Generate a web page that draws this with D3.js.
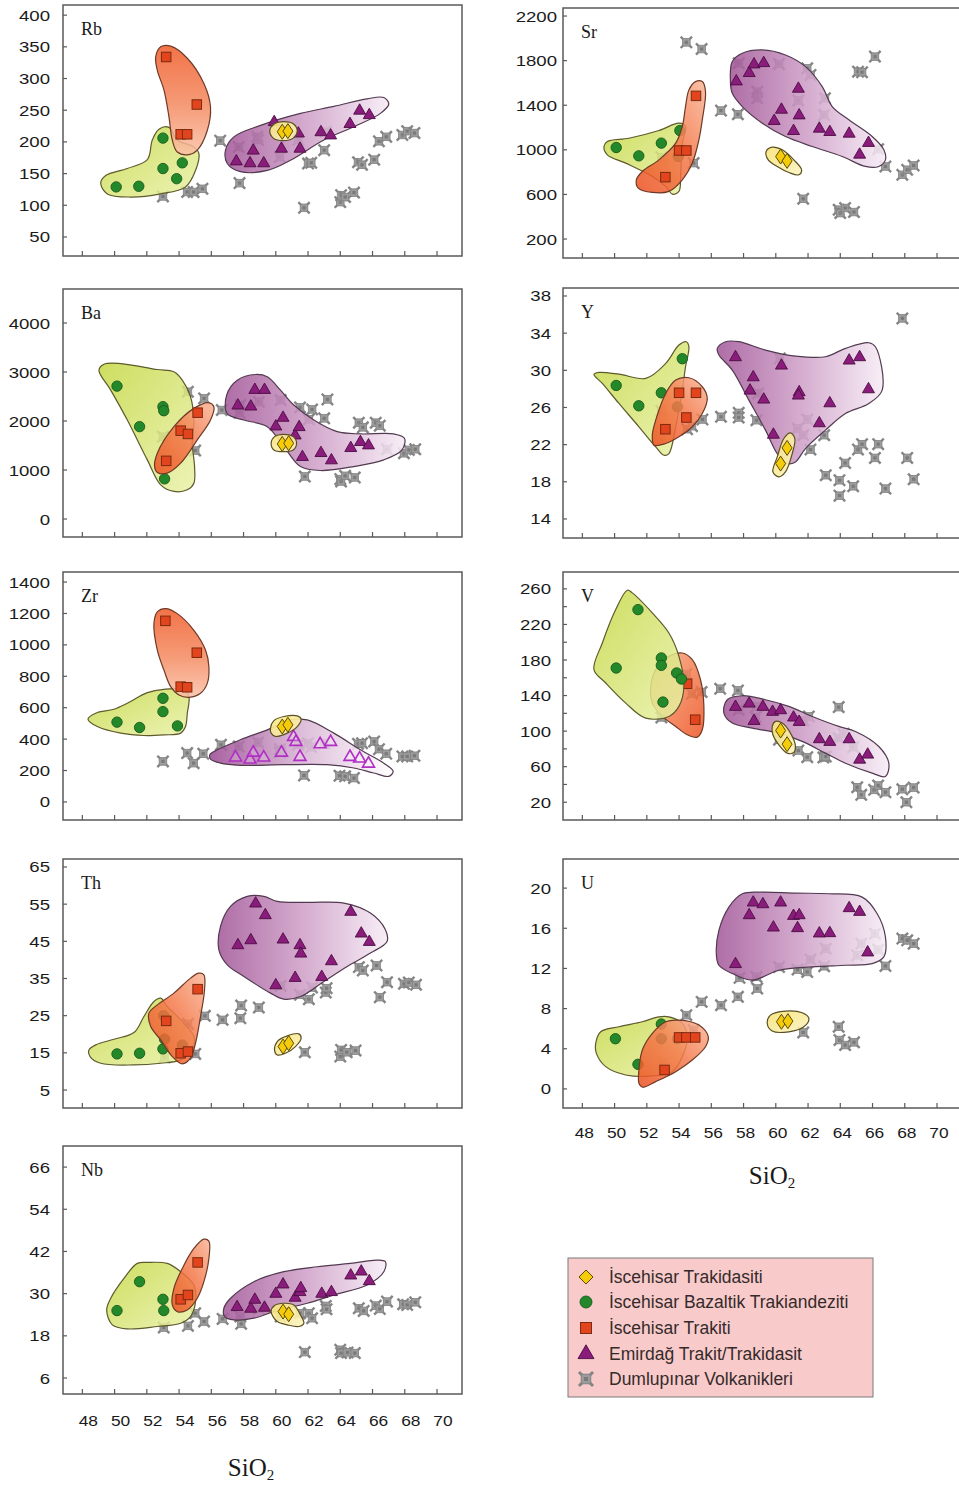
<!DOCTYPE html>
<html><head><meta charset="utf-8">
<script src="https://cdnjs.cloudflare.com/ajax/libs/d3/7.8.5/d3.min.js"></script>
<style>body{margin:0;background:#fff}svg{display:block}</style>
</head><body>
<svg id="c" width="959" height="1486"></svg>
<script>
// ---------------- DATA ----------------
const sio2Ticks = [48,50,52,54,56,58,60,62,64,66,68,70];
const legendLabels = ["İscehisar Trakidasiti","İscehisar Bazaltik Trakiandeziti","İscehisar Trakiti","Emirdağ Trakit/Trakidasit","Dumlupınar Volkanikleri"];

// Rb
const rbTicks = [50,100,150,200,250,300,350,400];
const rbTrakidasit = [[60.4,216],[60.75,217]];
const rbBazaltik = [[50.1,129],[51.5,130],[53.0,206],[53.0,158],[54.2,167],[53.85,142]];
const rbTrakit = [[53.2,334],[55.1,259],[54.1,212],[54.5,212]];
const rbEmirdag = [[59.9,232],[57.55,170],[58.4,167],[59.25,167],[58.6,187],[60.35,190],[61.4,214],[61.5,190],[62.8,216],[63.4,211],[64.6,229],[65.2,250],[65.8,243]];
const rbDumlupinar = [[53.0,114],[54.5,121],[54.9,121],[55.45,126],[56.55,202],[57.7,192],[57.75,135],[58.85,208],[58.9,203],[60.25,176],[61.4,203],[61.75,96],[62.0,166],[62.2,167],[63.0,187],[63.1,216],[64.0,105],[64.05,116],[64.3,113],[64.85,120],[65.1,168],[65.35,164],[66.1,172],[66.4,201],[66.85,208],[67.85,211],[68.15,217],[68.6,214]];
const rbEnvGreen = [[49.14,135],[49.45,147],[50.79,158],[52.03,172],[52.34,203],[52.75,220],[53.37,223],[53.89,203],[54.92,192],[55.23,182],[55.02,155],[54.4,129],[52.85,118],[50.99,113],[49.55,118]];
const rbEnvOrange = [[52.55,334],[52.86,350],[53.48,351],[54.51,332],[55.54,292],[55.95,255],[55.75,218],[55.13,187],[54.61,180],[53.89,184],[53.58,203],[53.37,240],[53.06,282],[52.65,313]];
const rbEnvPurple = [[56.88,187],[57.4,208],[59.05,226],[61.53,245],[63.6,256],[65.67,268],[66.7,270],[67.01,260],[66.49,245],[64.84,224],[62.98,203],[60.91,171],[59.47,155],[57.81,153],[56.99,166]];
const rbEnvYellow = [[59.63,218],[59.88,228],[60.5,232],[61.12,228],[61.33,217],[61.08,206],[60.46,202],[59.84,206]];

// Sr
const srTicks = [200,600,1000,1400,1800,2200];
const srTrakidasit = [[60.3,940],[60.7,901]];
const srBazaltik = [[50.1,1021],[51.5,946],[52.9,1060],[54.05,1173],[53.95,940]];
const srTrakit = [[55.05,1484],[54.0,994],[54.45,994],[53.15,755]];
const srEmirdag = [[57.55,1618],[58.35,1693],[58.65,1770],[59.25,1782],[61.4,1552],[60.35,1364],[59.9,1263],[61.45,1313],[61.1,1173],[62.7,1194],[63.35,1164],[64.55,1149],[65.75,1066],[65.2,961]];
const srDumlupinar = [[54.45,1964],[55.4,1904],[56.6,1352],[57.65,1319],[57.7,1776],[58.85,1522],[58.85,1463],[60.2,1770],[61.4,1442],[61.95,1731],[62.15,1672],[63.05,1463],[63.0,1313],[65.1,1701],[65.35,1696],[66.15,1836],[66.35,1006],[66.8,851],[67.85,776],[68.15,821],[68.55,860],[61.7,561],[63.9,463],[64.0,433],[64.3,478],[64.85,442],[52.9,934],[54.9,881]];
const srEnvGreen = [[49.34,1030],[49.55,1075],[50.89,1104],[52.75,1173],[53.99,1239],[54.4,1209],[54.2,1060],[54.1,791],[53.99,627],[53.58,603],[53.17,672],[52.34,761],[50.69,881],[49.55,955]];
const srEnvOrange = [[55.02,1612],[55.44,1612],[55.64,1522],[55.44,1269],[55.23,1090],[54.82,881],[54.2,731],[53.37,627],[52.34,618],[51.47,657],[51.35,731],[51.72,806],[52.75,910],[53.79,1060],[54.2,1209],[54.4,1388],[54.61,1537]];
const srEnvPurple = [[57.19,1597],[57.3,1791],[57.92,1866],[59.16,1896],[60.6,1851],[61.84,1746],[62.88,1567],[63.5,1388],[64.53,1269],[65.98,1119],[66.7,1000],[66.8,910],[66.39,851],[65.56,851],[64.12,940],[62.26,1030],[60.6,1119],[59.16,1239],[57.92,1388],[57.3,1507]];
const srEnvYellow = [[59.4,985],[59.77,1024],[60.4,1000],[61.12,910],[61.6,821],[61.43,776],[60.81,797],[60.09,851],[59.53,910]];

// Ba
const baTicks = [0,1000,2000,3000,4000];
const baTrakidasit = [[60.4,1532],[60.8,1546]];
const baBazaltik = [[50.15,2712],[51.55,1885],[53.0,2292],[53.05,2210],[53.1,820]];
const baTrakit = [[55.15,2170],[54.1,1803],[54.55,1736],[53.2,1187]];
const baEmirdag = [[57.65,2326],[58.45,2305],[58.7,2644],[59.3,2644],[60.0,1898],[60.45,2075],[61.2,1715],[61.45,1885],[61.65,1275],[62.8,1356],[63.45,1207],[64.65,1458],[65.25,1580],[65.75,1512]];
const baDumlupinar = [[54.55,2597],[55.55,2461],[53.0,1681],[55.0,1397],[56.65,2224],[57.8,2326],[57.75,2170],[58.95,2393],[60.3,2427],[61.5,2278],[62.25,2237],[62.05,2034],[63.2,2441],[63.0,2054],[61.8,868],[64.0,814],[64.05,766],[64.3,881],[64.9,848],[65.15,1966],[65.4,1871],[66.2,1966],[66.45,1905],[66.9,1424],[67.95,1342],[68.25,1410],[68.65,1424]];
const baEnvGreen = [[49.03,3037],[49.34,3159],[50.38,3173],[52.65,3051],[53.68,3004],[54.2,2834],[54.71,2495],[54.92,2020],[54.82,1546],[54.96,1071],[54.92,732],[54.51,597],[53.68,563],[52.86,698],[52.03,1207],[50.79,2020],[49.76,2631]];
const baEnvOrange = [[52.48,1071],[52.65,1342],[53.68,1885],[54.92,2258],[55.85,2373],[56.16,2292],[55.95,2020],[55.13,1614],[54.1,1139],[53.27,936],[52.65,949]];
const baEnvPurple = [[56.99,2149],[56.95,2529],[57.61,2834],[58.74,2949],[59.47,2902],[60.29,2631],[61.12,2326],[62.36,2020],[63.81,1783],[65.25,1736],[67.32,1736],[67.98,1648],[67.83,1410],[66.7,1207],[64.84,1071],[62.77,990],[61.53,1071],[60.5,1478],[59.47,1885],[58.02,2020]];
const baEnvYellow = [[59.71,1546],[59.92,1681],[60.46,1729],[61.08,1681],[61.29,1546],[61.08,1410],[60.46,1376],[59.88,1410]];

// Y
const yTicks = [14,18,22,26,30,34,38];
const yTrakidasit = [[60.3,19.96],[60.7,21.65]];
const yBazaltik = [[50.1,28.37],[51.5,26.18],[52.9,27.58],[54.2,31.25],[53.9,26.07]];
const yTrakit = [[54.0,27.58],[55.05,27.58],[54.45,24.92],[53.15,23.66]];
const yEmirdag = [[57.5,31.46],[58.6,29.3],[58.4,27.87],[59.25,26.9],[60.35,30.56],[61.45,27.69],[61.4,27.33],[59.85,23.12],[62.7,24.35],[63.35,26.5],[64.55,31.1],[65.2,31.46],[65.75,28.01]];
const yDumlupinar = [[52.9,25.64],[54.5,23.66],[54.8,23.99],[55.45,24.71],[56.6,25.0],[57.7,25.42],[57.7,24.92],[58.8,24.63],[58.9,27.51],[60.25,31.28],[61.35,23.74],[61.7,23.02],[61.95,24.71],[62.15,21.47],[63.0,23.02],[63.1,18.71],[63.95,18.17],[64.3,20.03],[63.95,16.51],[64.8,17.52],[65.1,21.47],[65.35,22.05],[66.15,20.57],[66.35,22.05],[66.8,17.27],[67.85,35.59],[68.15,20.57],[68.55,18.28]];
const yEnvGreen = [[48.72,29.56],[49.03,29.77],[50.27,29.59],[51.93,29.13],[53.17,30.74],[53.99,32.72],[54.45,33.08],[54.61,32.54],[54.4,30.38],[54.2,27.87],[53.79,23.92],[53.37,21.04],[53.06,20.86],[52.55,21.76],[51.51,23.92],[50.27,26.43],[49.24,28.59]];
const yEnvOrange = [[52.34,23.02],[52.55,24.63],[53.17,27.51],[53.79,28.95],[54.61,29.2],[55.44,28.23],[55.75,26.97],[55.44,25.35],[54.82,23.92],[53.99,22.84],[53.17,22.12],[52.44,21.94]];
const yEnvPurple = [[56.37,32.36],[56.88,33.08],[57.71,33.08],[59.36,32.18],[61.22,31.53],[63.08,31.46],[64.32,32.36],[65.77,32.97],[66.18,32.54],[66.6,27.87],[65.77,26.43],[64.32,25.35],[63.08,23.56],[61.84,21.58],[61.22,20.14],[60.71,19.96],[60.09,21.04],[59.36,23.56],[58.33,26.79],[57.3,30.02],[56.47,31.64]];
const yEnvYellow = [[60.09,20.68],[60.5,22.66],[60.91,23.27],[61.18,22.66],[61.02,21.04],[60.6,19.06],[60.19,18.53],[59.82,19.06]];

// Zr
const zrTicks = [0,200,400,600,800,1000,1200,1400];
const zrTrakidasit = [[60.4,480],[60.75,491]];
const zrBazaltik = [[50.15,508],[51.55,474],[53.0,660],[53.0,575],[53.9,484]];
const zrTrakit = [[53.15,1153],[55.1,950],[54.1,734],[54.5,730]];
const zrEmirdag = [[57.5,286],[58.4,273],[58.6,317],[59.25,286],[60.35,317],[61.1,417],[61.5,290],[62.75,370],[63.4,385],[64.6,290],[65.2,279],[65.75,247],[61.25,385]];
const zrDumlupinar = [[53.0,258],[54.5,311],[54.9,247],[55.5,307],[56.6,364],[57.7,353],[58.9,379],[60.25,336],[60.25,315],[61.4,364],[61.75,169],[62.0,374],[62.2,349],[63.0,374],[63.95,167],[64.3,163],[64.85,152],[65.1,370],[65.35,374],[66.1,385],[66.4,336],[66.85,307],[67.85,290],[68.15,290],[68.6,294]];
const zrEnvGreen = [[48.35,527],[48.83,565],[49.96,590],[50.79,628],[52.03,696],[53.06,717],[54.3,713],[54.61,670],[54.51,565],[54.4,480],[54.1,438],[53.06,427],[51.82,423],[50.38,438],[48.93,480]];
const zrEnvOrange = [[52.44,1136],[52.65,1210],[53.17,1231],[53.89,1199],[54.92,1093],[55.64,967],[55.85,861],[55.75,755],[55.33,692],[54.61,666],[53.99,681],[53.48,734],[53.06,840],[52.65,967]];
const zrEnvPurple = [[55.91,300],[56.37,332],[57.81,396],[59.47,459],[60.91,522],[61.95,522],[63.6,438],[65.25,332],[66.7,247],[67.28,195],[67.01,163],[66.08,184],[64.84,216],[63.19,237],[60.5,237],[57.81,233],[56.57,247],[55.95,273]];
const zrEnvYellow = [[59.67,470],[59.88,518],[60.5,544],[61.33,548],[61.57,527],[61.33,480],[60.71,438],[59.98,417],[59.71,438]];

// V
const vTicks = [20,60,100,140,180,220,260];
const vMinorTicks = [40,80,120,160,200,240];
const vTrakidasit = [[60.3,100.7],[60.7,85.3]];
const vBazaltik = [[51.45,236.7],[50.1,171.0],[52.9,182.3],[52.9,174.0],[53.85,165.4],[54.15,158.6],[53.0,132.7]];
const vTrakit = [[54.5,153.3],[55.0,112.8]];
const vEmirdag = [[57.5,127.8],[58.35,131.5],[58.65,112.0],[59.2,127.8],[59.8,122.2],[60.3,124.0],[61.1,115.8],[61.45,110.9],[62.7,91.4],[63.35,88.4],[64.55,91.4],[65.2,68.4],[65.7,74.1]];
const vDumlupinar = [[52.9,115.4],[54.45,164.2],[54.8,142.1],[55.4,144.0],[56.55,147.7],[57.65,145.8],[57.7,124.0],[58.8,127.8],[58.75,115.8],[60.2,90.2],[61.4,78.2],[61.7,112.0],[62.05,116.5],[61.95,70.7],[62.95,70.3],[63.1,71.4],[63.9,127.0],[63.9,92.1],[64.2,97.0],[64.8,82.0],[65.05,36.9],[65.3,28.3],[66.1,33.9],[66.35,38.8],[66.8,31.3],[67.85,34.6],[68.1,20.0],[68.55,36.5]];
const vEnvGreen = [[48.72,169.1],[49.24,199.2],[50.07,236.7],[50.79,258.5],[51.1,255.5],[52.34,233.0],[53.37,210.4],[53.99,184.1],[54.3,150.3],[53.99,127.8],[53.37,116.5],[51.93,114.6],[50.69,131.5],[49.45,154.1]];
const vEnvOrange = [[52.24,150.3],[52.55,169.1],[53.37,184.1],[54.2,187.9],[54.82,180.4],[55.33,157.8],[55.54,127.8],[55.44,101.5],[55.13,93.2],[54.51,95.9],[53.79,105.3],[52.96,116.5],[52.34,131.5]];
const vEnvPurple = [[56.78,120.3],[56.99,135.3],[57.92,139.8],[59.36,135.3],[60.81,127.8],[62.26,116.5],[63.91,105.3],[64.94,99.6],[66.39,82.7],[67.01,63.9],[66.8,48.9],[65.98,52.7],[64.32,63.9],[63.08,75.2],[61.64,88.4],[60.19,97.7],[58.54,103.4],[57.3,109.0]];
const vEnvYellow = [[59.78,105.3],[59.98,110.9],[60.4,109.0],[60.91,97.7],[61.22,82.7],[61.12,76.0],[60.71,75.2],[60.19,84.6],[59.82,95.9]];

// Th
const thTicks = [5,15,25,35,45,55,65];
const thTrakidasit = [[60.45,16.69],[60.8,17.59]];
const thBazaltik = [[50.15,14.71],[51.55,14.89],[53.0,16.06],[53.1,18.7],[54.2,17.1],[53.05,25.0]];
const thTrakit = [[55.15,32.13],[53.2,23.6],[54.1,14.89],[54.55,15.34]];
const thEmirdag = [[58.75,55.3],[59.35,52.16],[57.65,44.08],[58.45,45.42],[60.45,45.6],[61.5,44.08],[61.55,41.83],[63.45,39.77],[61.2,35.28],[62.85,35.55],[60.0,33.3],[64.65,53.06],[65.3,47.22],[65.8,44.97]];
const thDumlupinar = [[53.1,13.8],[54.55,22.79],[55.0,14.71],[55.6,24.95],[56.7,23.87],[57.8,24.32],[57.85,27.73],[58.95,27.19],[60.3,33.03],[61.5,30.61],[61.8,15.16],[62.05,29.44],[62.25,32.58],[63.1,31.24],[63.15,32.4],[64.0,14.0],[64.05,15.79],[64.4,15.16],[64.95,15.61],[65.15,38.06],[65.4,37.16],[66.25,38.51],[66.45,29.98],[66.9,34.02],[67.95,33.57],[68.25,33.93],[68.7,33.3]];
const thEnvGreen = [[48.41,15.79],[48.83,17.14],[49.96,18.66],[51.2,20.46],[51.82,24.77],[52.44,28.81],[52.86,29.71],[53.27,27.46],[54.1,23.87],[54.92,19.38],[54.82,15.79],[54.1,13.1],[52.86,12.2],[51.2,11.75],[49.14,12.2],[48.48,14.0]];
const thEnvOrange = [[52.13,25.67],[52.65,27.91],[53.68,31.06],[54.71,35.1],[55.23,36.44],[55.54,36.0],[55.58,31.95],[55.33,24.77],[55.02,17.59],[54.71,13.55],[54.2,12.02],[53.58,14.0],[52.86,18.48],[52.24,22.08]];
const thEnvPurple = [[56.47,42.73],[56.57,49.02],[57.19,54.4],[58.23,57.1],[59.26,57.1],[60.09,55.75],[61.95,55.48],[64.22,55.3],[65.87,52.61],[66.8,48.12],[66.9,44.97],[65.87,41.83],[64.43,38.24],[62.98,34.2],[61.53,30.16],[60.5,29.44],[59.67,31.06],[58.02,35.55],[56.99,38.69]];
const thEnvYellow = [[59.92,15.79],[60.09,18.03],[60.71,19.56],[61.43,20.1],[61.57,18.93],[61.22,16.69],[60.6,14.89],[60.09,14.44]];

// U
const uTicks = [0,4,8,12,16,20];
const uTrakidasit = [[60.35,6.69],[60.75,6.75]];
const uBazaltik = [[50.05,5.0],[51.45,2.45],[52.9,6.46],[52.9,5.0],[53.9,5.0]];
const uTrakit = [[54.0,5.13],[54.45,5.13],[55.0,5.13],[53.1,1.89]];
const uEmirdag = [[58.6,18.61],[59.2,18.44],[60.3,18.61],[58.35,17.35],[61.1,17.28],[61.45,17.35],[61.35,16.06],[59.85,16.12],[62.7,15.53],[63.35,15.56],[64.55,18.05],[65.2,17.68],[65.7,13.64],[57.5,12.48]];
const uDumlupinar = [[53.0,2.55],[54.45,7.35],[54.9,5.86],[55.4,8.67],[56.6,8.34],[57.65,9.17],[57.75,11.06],[58.8,11.16],[58.85,10.0],[60.2,12.15],[61.35,11.89],[61.7,5.63],[61.95,11.65],[62.15,12.88],[63.0,12.22],[63.1,13.97],[63.9,6.19],[63.95,4.87],[64.3,4.37],[64.85,4.64],[65.05,13.31],[65.3,14.47],[66.15,15.46],[66.35,13.87],[66.8,12.25],[67.85,14.97],[68.15,14.8],[68.55,14.47]];
const uEnvGreen = [[48.83,4.54],[49.14,5.69],[50.27,6.19],[51.72,6.69],[52.75,7.18],[53.37,7.18],[54.2,6.52],[54.51,5.2],[54.2,3.21],[53.58,1.72],[52.34,1.29],[50.69,1.39],[49.45,2.22],[48.87,3.54]];
const uEnvOrange = [[51.51,1.89],[51.72,3.87],[52.34,5.53],[53.17,6.69],[53.99,6.85],[55.23,6.36],[55.81,5.2],[55.64,4.2],[54.82,2.88],[53.79,1.72],[52.55,0.73],[51.72,0.17],[51.51,0.56]];
const uEnvPurple = [[56.31,13.48],[56.47,15.79],[57.09,18.11],[57.92,19.44],[59.16,19.6],[61.22,19.5],[63.29,19.44],[65.36,19.1],[66.29,17.45],[66.8,15.13],[66.7,13.15],[65.98,12.48],[64.32,12.32],[62.26,12.15],[60.19,11.82],[58.54,10.83],[57.3,11.49],[56.47,12.32]];
const uEnvYellow = [[59.47,6.52],[59.67,7.35],[60.6,7.75],[61.64,7.58],[62.05,7.02],[61.74,6.19],[60.81,5.69],[59.78,5.76]];

// Nb
const nbTicks = [6,18,30,42,54,66];
const nbTrakidasit = [[60.45,24.9],[60.8,24.14]];
const nbBazaltik = [[50.15,25.18],[51.55,33.4],[53.0,28.39],[53.05,25.18]];
const nbTrakit = [[55.15,38.88],[54.1,28.39],[54.55,29.62]];
const nbEmirdag = [[57.6,26.31],[58.45,25.84],[58.7,28.39],[59.3,26.12],[60.0,30.09],[60.45,32.74],[61.2,28.96],[61.5,30.57],[61.55,31.7],[62.85,30.09],[63.45,30.57],[64.65,35.29],[65.3,36.42],[65.8,33.68]];
const nbDumlupinar = [[53.05,20.36],[54.55,20.83],[55.0,24.42],[55.55,22.06],[56.7,22.82],[57.8,23.48],[57.85,21.4],[58.95,25.65],[60.3,23.48],[61.5,24.42],[61.8,13.37],[62.05,24.42],[62.25,23.01],[63.1,26.5],[63.15,25.56],[64.0,14.03],[64.05,13.09],[64.45,13.27],[64.9,13.09],[65.15,25.84],[65.45,25.09],[66.2,26.6],[66.45,25.65],[66.9,27.73],[67.9,26.98],[68.15,26.79],[68.65,27.54]];
const nbEnvGreen = [[49.51,25.37],[49.76,28.68],[50.58,34.35],[51.41,38.6],[52.03,38.88],[53.27,38.6],[54.1,36.24],[54.92,32.46],[55.02,27.73],[54.71,23.48],[54.1,21.59],[52.65,20.65],[50.79,19.98],[49.86,21.12]];
const nbEnvOrange = [[53.58,26.79],[53.68,31.51],[54.2,37.18],[54.92,42.85],[55.54,45.5],[55.85,44.93],[55.85,40.02],[55.54,33.4],[55.13,28.68],[54.51,25.37],[53.89,24.9]];
const nbEnvPurple = [[56.78,25.84],[57.19,28.68],[58.64,33.4],[60.5,36.24],[62.57,37.65],[64.63,38.6],[66.29,39.54],[66.8,39.07],[66.7,36.24],[65.67,32.46],[63.6,29.62],[61.95,27.26],[59.88,24.9],[58.64,23.01],[57.4,22.53],[56.82,23.48]];
const nbEnvYellow = [[59.71,24.9],[59.92,26.6],[60.5,27.26],[61.12,26.79],[61.53,23.95],[61.74,21.59],[61.43,20.65],[60.71,21.12],[60.09,22.06]];

// ---------------- LAYOUT ----------------
const LEFT_X = 63, RIGHT_X = 563, BOX_W = 399;
const X_DOMAIN = [46.8, 71.55];
const panels = [
  {name:"Rb", x:LEFT_X, top:5, bottom:256, dom:[20,416], ticks:rbTicks, lblGap:13, orangeDir:"tb",
   d:rbTrakidasit,g:rbBazaltik,r:rbTrakit,p:rbEmirdag,s:rbDumlupinar,eg:rbEnvGreen,eo:rbEnvOrange,ep:rbEnvPurple,ey:rbEnvYellow},
  {name:"Sr", x:RIGHT_X, top:8, bottom:258, dom:[30,2272], ticks:srTicks, lblGap:6,
   d:srTrakidasit,g:srBazaltik,r:srTrakit,p:srEmirdag,s:srDumlupinar,eg:srEnvGreen,eo:srEnvOrange,ep:srEnvPurple,ey:srEnvYellow},
  {name:"Ba", x:LEFT_X, top:289, bottom:537, dom:[-367,4694], ticks:baTicks, lblGap:13,
   d:baTrakidasit,g:baBazaltik,r:baTrakit,p:baEmirdag,s:baDumlupinar,eg:baEnvGreen,eo:baEnvOrange,ep:baEnvPurple,ey:baEnvYellow},
  {name:"Y", x:RIGHT_X, top:288, bottom:538, dom:[11.95,38.86], ticks:yTicks, lblGap:12,
   d:yTrakidasit,g:yBazaltik,r:yTrakit,p:yEmirdag,s:yDumlupinar,eg:yEnvGreen,eo:yEnvOrange,ep:yEnvPurple,ey:yEnvYellow},
  {name:"Zr", x:LEFT_X, top:572, bottom:820, dom:[-115,1464], ticks:zrTicks, lblGap:13, orangeDir:"tb", hollow:true,
   d:zrTrakidasit,g:zrBazaltik,r:zrTrakit,p:zrEmirdag,s:zrDumlupinar,eg:zrEnvGreen,eo:zrEnvOrange,ep:zrEnvPurple,ey:zrEnvYellow},
  {name:"V", x:RIGHT_X, top:572, bottom:820, dom:[0,279], ticks:vTicks, minor:vMinorTicks, lblGap:12, orangeFirst:true, orangeDir:"rl",
   d:vTrakidasit,g:vBazaltik,r:vTrakit,p:vEmirdag,s:vDumlupinar,eg:vEnvGreen,eo:vEnvOrange,ep:vEnvPurple,ey:vEnvYellow},
  {name:"Th", x:LEFT_X, top:859, bottom:1108, dom:[0.16,67.15], ticks:thTicks, lblGap:13,
   d:thTrakidasit,g:thBazaltik,r:thTrakit,p:thEmirdag,s:thDumlupinar,eg:thEnvGreen,eo:thEnvOrange,ep:thEnvPurple,ey:thEnvYellow},
  {name:"U", x:RIGHT_X, top:859, bottom:1108, dom:[-1.9,22.9], ticks:uTicks, lblGap:12, xLabels:true, xLblDx:2, xLblY:1138, sio2:[772,1184],
   d:uTrakidasit,g:uBazaltik,r:uTrakit,p:uEmirdag,s:uDumlupinar,eg:uEnvGreen,eo:uEnvOrange,ep:uEnvPurple,ey:uEnvYellow},
  {name:"Nb", x:LEFT_X, top:1146, bottom:1394, dom:[1.45,72], ticks:nbTicks, lblGap:13, xLabels:true, xLblDx:6, xLblY:1426, sio2:[251,1476],
   d:nbTrakidasit,g:nbBazaltik,r:nbTrakit,p:nbEmirdag,s:nbDumlupinar,eg:nbEnvGreen,eo:nbEnvOrange,ep:nbEnvPurple,ey:nbEnvYellow}
];

const svg = d3.select("#c");
const defs = svg.append("defs");
function lg(id, x1,y1,x2,y2, stops){
  const g = defs.append("linearGradient").attr("id",id).attr("x1",x1).attr("y1",y1).attr("x2",x2).attr("y2",y2);
  stops.forEach(s=>g.append("stop").attr("offset",s[0]).attr("stop-color",s[1]));
}
lg("gGreen",0,0,1,1,[[0,"#c4d844"],[1,"#eaf1a8"]]);
lg("gOrangeBL",0,1,1,0,[[0,"#ec4f1e"],[0.55,"#f47a4c"],[1,"#f9b698"]]);
lg("gOrangeTB",0,0,0,1,[[0,"#ef5a28"],[0.55,"#f48a60"],[1,"#fac0a6"]]);
lg("gOrangeRL",1,1,0,0,[[0,"#ee5222"],[0.6,"#f4885c"],[1,"#f8b090"]]);
lg("gPurple",0,0,1,0,[[0,"#a45a9a"],[0.5,"#cfa0c8"],[1,"#f6ecf5"]]);
lg("gPurpleZr",0,0,1,0,[[0,"#9c4c94"],[0.5,"#d8b4d4"],[1,"#ffffff"]]);
lg("gYellow",0,0,1,1,[[0,"#f8e47a"],[1,"#fbf3c4"]]);

const envLine = d3.line().curve(d3.curveCatmullRomClosed.alpha(0.5));

function greyStar(g, x, y, s){
  const k = s||1;
  const t = g.append("g").attr("transform",`translate(${x},${y}) scale(${k})`);
  t.append("path").attr("d","M-4.8,-4.8L4.8,4.8M4.8,-4.8L-4.8,4.8").attr("stroke","#858585").attr("stroke-width",2.4).attr("stroke-linecap","square");
  t.append("rect").attr("x",-3.8).attr("y",-3.8).attr("width",7.6).attr("height",7.6).attr("fill","#9b9b9b").attr("stroke","#838383").attr("stroke-width",0.8);
  t.append("rect").attr("x",-1.6).attr("y",-1.6).attr("width",3.2).attr("height",3.2).attr("fill","#7a7a7a");
}
const triPath = d3.symbol().type(d3.symbolTriangle).size(62)();
const triPathL = d3.symbol().type(d3.symbolTriangle).size(110)();
function tri(g,x,y,hollow,big){
  g.append("path").attr("d", big?triPathL:triPath).attr("transform",`translate(${x},${y+ (big?0:0.5)})`)
    .attr("fill", hollow?"#ffffff":"#8a1c7c").attr("fill-opacity",hollow?0.2:1)
    .attr("stroke", hollow?"#b02ec4":"#4c0c42").attr("stroke-width", hollow?1.6:0.9);
}
function diamond(g,x,y,w,h){
  g.append("path").attr("d",`M0,${-h/2}L${w/2},0L0,${h/2}L${-w/2},0Z`).attr("transform",`translate(${x},${y})`)
    .attr("fill","#f4cc0c").attr("stroke","#5c4a00").attr("stroke-width",1);
}
function square(g,x,y,s){
  g.append("rect").attr("x",x-s/2).attr("y",y-s/2).attr("width",s).attr("height",s)
    .attr("fill","#e2451e").attr("stroke","#7c2a10").attr("stroke-width",1);
}
function circ(g,x,y,r){
  g.append("circle").attr("cx",x).attr("cy",y).attr("r",r).attr("fill","#23882a").attr("stroke","#185a1c").attr("stroke-width",0.9);
}

function stretchedText(g, x, y, txt, anchor, size, sx){
  g.append("text").attr("transform",`translate(${x},${y}) scale(${sx},1)`).attr("text-anchor",anchor)
    .attr("font-family","'Liberation Sans', Arial, sans-serif").attr("font-size",size).attr("fill","#1a1a1a").text(txt);
}

panels.forEach(P=>{
  const xs = d3.scaleLinear().domain(X_DOMAIN).range([P.x, P.x+BOX_W]);
  const ys = d3.scaleLinear().domain(P.dom).range([P.bottom, P.top]);
  envLine.x(d=>xs(d[0])).y(d=>ys(d[1]));
  const g = svg.append("g");
  g.append("rect").attr("x",P.x).attr("y",P.top).attr("width",BOX_W).attr("height",P.bottom-P.top).attr("fill","#fff");
  const clipId = "clip"+P.name;
  defs.append("clipPath").attr("id",clipId).append("rect").attr("x",P.x).attr("y",P.top).attr("width",BOX_W).attr("height",P.bottom-P.top);
  const plot = g.append("g").attr("clip-path",`url(#${clipId})`);

  P.s.forEach(d=>greyStar(plot, xs(d[0]), ys(d[1])));

  const oFill = P.orangeDir==="tb" ? "url(#gOrangeTB)" : (P.orangeDir==="rl" ? "url(#gOrangeRL)" : "url(#gOrangeBL)");
  const drawGreen = ()=>{
    plot.append("path").attr("d",envLine(P.eg)).attr("fill","url(#gGreen)").attr("fill-opacity",0.85).attr("stroke","#5e5a2c").attr("stroke-width",1.2);
    P.g.forEach(d=>circ(plot, xs(d[0]), ys(d[1]), 5.2));
  };
  const drawOrange = ()=>{
    plot.append("path").attr("d",envLine(P.eo)).attr("fill",oFill).attr("fill-opacity",0.85).attr("stroke","#6e3a26").attr("stroke-width",1.2);
    P.r.forEach(d=>square(plot, xs(d[0]), ys(d[1]), 9.5));
  };
  if (P.orangeFirst){ drawOrange(); drawGreen(); } else { drawGreen(); drawOrange(); }
  plot.append("path").attr("d",envLine(P.ep)).attr("fill",P.hollow?"url(#gPurpleZr)":"url(#gPurple)").attr("fill-opacity",0.88).attr("stroke","#523a50").attr("stroke-width",1.2);
  P.p.forEach(d=>tri(plot, xs(d[0]), ys(d[1]), P.hollow));
  plot.append("path").attr("d",envLine(P.ey)).attr("fill","url(#gYellow)").attr("fill-opacity",0.92).attr("stroke","#5a5022").attr("stroke-width",1.2);
  P.d.forEach(d=>diamond(plot, xs(d[0]), ys(d[1]), 10, 15));

  g.append("rect").attr("x",P.x).attr("y",P.top).attr("width",BOX_W).attr("height",P.bottom-P.top)
    .attr("fill","none").attr("stroke","#5a5a5a").attr("stroke-width",1.5);

  sio2Ticks.forEach(t=>{
    g.append("line").attr("x1",xs(t)).attr("x2",xs(t)).attr("y1",P.bottom).attr("y2",P.bottom-5).attr("stroke","#5a5a5a").attr("stroke-width",1.2);
  });
  P.ticks.forEach(t=>{
    g.append("line").attr("x1",P.x).attr("x2",P.x+4).attr("y1",ys(t)).attr("y2",ys(t)).attr("stroke","#5a5a5a").attr("stroke-width",1.2);
    stretchedText(g, P.x-P.lblGap, ys(t)+5.5, String(t), "end", 15.5, 1.2);
  });
  (P.minor||[]).forEach(t=>{
    g.append("line").attr("x1",P.x).attr("x2",P.x+4).attr("y1",ys(t)).attr("y2",ys(t)).attr("stroke","#5a5a5a").attr("stroke-width",1.2);
  });
  g.append("text").attr("x",P.x+18).attr("y",P.top+30).attr("font-family","'Liberation Serif','Times New Roman',serif")
    .attr("font-size",18).attr("fill","#1a1a1a").text(P.name);

  if (P.xLabels){
    sio2Ticks.forEach(t=>stretchedText(g, xs(t)+P.xLblDx, P.xLblY, String(t), "middle", 15.5, 1.12));
    const st = g.append("text").attr("x",P.sio2[0]).attr("y",P.sio2[1]).attr("text-anchor","middle")
      .attr("font-family","'Liberation Serif','Times New Roman',serif").attr("font-size",25).attr("fill","#1a1a1a");
    st.append("tspan").text("SiO");
    st.append("tspan").attr("font-size",15).attr("dy",4).text("2");
  }
});

// ---------------- LEGEND ----------------
const L = svg.append("g");
L.append("rect").attr("x",568).attr("y",1258).attr("width",305).attr("height",139).attr("fill","#f8caca").attr("stroke","#7a7a7a").attr("stroke-width",1);
const legY = [1277,1302,1328,1354,1379];
const symX = 586;
diamond(L, symX, legY[0], 14, 14);
circ(L, symX, legY[1], 6);
square(L, symX, legY[2], 11);
tri(L, symX, legY[3], false, true);
greyStar(L, symX, legY[4], 1.25);
legendLabels.forEach((t,i)=>{
  L.append("text").attr("x",609).attr("y",legY[i]+6).attr("font-family","'Liberation Sans', Arial, sans-serif")
    .attr("font-size",17.5).attr("fill","#352a2a").text(t);
});
</script>
</body></html>
